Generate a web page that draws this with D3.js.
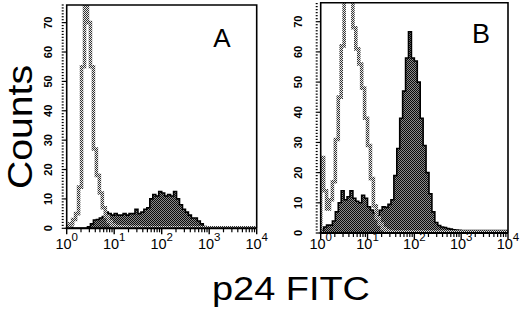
<!DOCTYPE html>
<html><head><meta charset="utf-8">
<script src="https://cdn.jsdelivr.net/npm/d3@7/dist/d3.min.js"></script>
<style>
html,body{margin:0;padding:0;background:#fff;}
svg{display:block;}
text{font-family:"Liberation Sans",Arial,Helvetica,sans-serif;fill:#000;}
</style></head>
<body>
<svg id="chart" width="520" height="310"></svg>
<script>
// ---- data (16 channels per decade, 4 decades) ----
const binsPerDecade = 16;
const yTicks = [0,10,20,30,40,50,60,70];
const xTickExponents = [0,1,2,3,4];
const panelLabels = ["A","B"];
const xTitle = "p24 FITC";
const yTitle = "Counts";

const controlA = [0.5,1.5,3,5,14,55,90,70,55,27,18,12,7,4,2.3,1.1,
  0.6,0.5,0.4,0.4,0.3,0.3,0.3,0.3,0.3,0.2,0.2,0.2,0.2,0.2,0.2,0.2,
  0.2,0.2,0.2,0.2,0.2,0.2,0.2,0.2,0.2,0.2,0.2,0.2,0.2,0.2,0.2,0.2,
  0.2,0.2,0.2,0.2,0.2,0.2,0.2,0.2,0.2,0.2,0.2,0.2,0.2,0.2,0.2,0.2];
const sampleA = [0.8,0.3,0,0,0,0,0,0.5,1.5,2.8,3,3.5,4,5.5,5,4.5,
  5,4.5,4.5,5,4.5,5,5,6.5,5,5.5,6.5,7,10,11.5,11,12.5,
  12,11,11.5,11,12.5,10,8,6.5,5.5,4.5,3.5,3.5,2.5,1.5,0.6,0.3,
  0.3,0.3,0.3,0.3,0.3,0.3,0.3,0.3,0.3,0.3,0.3,0.3,0.3,0.3,0.3,0.3];
const controlB = [25,14,8,11,17,31,45,62,85,90,80,68,61,56,48,38,
  29,18,9,5,3,1.5,0.8,0.5,0.3,0.3,0.3,0.3,0.3,0.3,0.3,0.3,
  0.3,0.3,0.3,0.3,0.3,0.3,0.3,0.3,0.3,0.3,0.3,0.3,0.3,0.3,0.3,0.3,
  0.3,0.3,0.3,0.3,0.3,0.3,0.3,0.3,0.3,0.3,0.3,0.3,0.3,0.3,0.3,0.3];
const sampleB = [1,2,2.6,2.6,4,7,10,14,11,12,14,11.5,10.5,10,12.5,11.5,
  8.7,7.6,6.6,5.5,7.5,8.7,8.5,9.5,11,19,28,38,47,58,66.7,58,
  57,50,38,29,20,13,7,3.5,2.5,2,1.8,1.5,1.3,1.1,1,0.9,
  0.8,0.8,0.8,0.8,0.8,0.8,0.8,0.8,0.8,0.8,0.8,0.8,0.8,0.8,0.8,0.8];

const panels = [
  {id:"A", control:controlA, sample:sampleA, x0:66.7, x1:256.7, yb:228.3, yt:5, ymax:76,
   labelX:222, labelY:47, labelSize:26, tickLabelX:52},
  {id:"B", control:controlB, sample:sampleB, x0:320.7, x1:508, yb:233, yt:2.7, ymax:76.3,
   labelX:481, labelY:43, labelSize:27, tickLabelX:302}
];

const svg = d3.select("#chart");
const defs = svg.append("defs");
// halftone fill for the sample histogram
const pf = defs.append("pattern").attr("id","fillDots").attr("width",2).attr("height",2)
  .attr("patternUnits","userSpaceOnUse");
pf.append("rect").attr("width",2).attr("height",2).attr("fill","#8c8c8c");
pf.append("rect").attr("width",1).attr("height",1).attr("fill","#0a0a0a");
pf.append("rect").attr("x",1).attr("y",1).attr("width",1).attr("height",1).attr("fill","#0a0a0a");
// hatched grey for control outline
const pc = defs.append("pattern").attr("id","ctrlHatch").attr("width",2).attr("height",2)
  .attr("patternUnits","userSpaceOnUse");
pc.append("rect").attr("width",2).attr("height",2).attr("fill","#e6e6e6");
pc.append("rect").attr("width",1).attr("height",1).attr("fill","#333");
pc.append("rect").attr("x",1).attr("y",1).attr("width",1).attr("height",1).attr("fill","#333");

panels.forEach((p,pi) => {
  const x = d3.scaleLog().domain([1,1e4]).range([p.x0,p.x1]);
  const y = d3.scaleLinear().domain([0,p.ymax]).range([p.yb,p.yt]);
  const g = svg.append("g");
  const clipId = "clip"+p.id;
  defs.append("clipPath").attr("id",clipId).append("rect")
    .attr("x",p.x0).attr("y",p.yt).attr("width",p.x1-p.x0).attr("height",p.yb-p.yt);

  const toPts = arr => {
    const pts = [{e:1, v:0}];
    arr.forEach((v,i) => pts.push({e:Math.pow(10,i/binsPerDecade), v}));
    pts.push({e:1e4, v:arr[arr.length-1]});
    return pts;
  };
  const area = d3.area().x(d=>x(d.e)).y0(y(0)).y1(d=>y(d.v)).curve(d3.curveStepAfter);
  const line = d3.line().x(d=>x(d.e)).y(d=>y(d.v)).curve(d3.curveStepAfter);

  const hg = g.append("g").attr("clip-path",`url(#${clipId})`);
  const sPts = toPts(p.sample);
  hg.append("path").attr("d",area(sPts)).attr("fill","url(#fillDots)");
  hg.append("path").attr("d",line(sPts)).attr("fill","none").attr("stroke","#000").attr("stroke-width",1.6);
  hg.append("path").attr("d",line(toPts(p.control))).attr("fill","none")
    .attr("stroke","url(#ctrlHatch)").attr("stroke-width",3.6);

  // frame
  g.append("path").attr("d",`M${p.x0},${p.yb}V${p.yt}H${p.x1}V${p.yb}`)
    .attr("fill","none").attr("stroke","#000").attr("stroke-width",1.6);
  g.append("line").attr("x1",p.x0-1).attr("x2",p.x1).attr("y1",p.yb).attr("y2",p.yb)
    .attr("stroke","#000").attr("stroke-width",2);

  // y axis: minor every unit, major every 10
  const yMinor = d3.range(0, Math.floor(p.ymax)+1);
  g.selectAll(".ym").data(yMinor).join("line")
    .attr("x1",p.x0-5).attr("x2",d=> d%10===0 ? p.x0 : p.x0-3)
    .attr("y1",d=>y(d)).attr("y2",d=>y(d))
    .attr("stroke","#000").attr("stroke-width",1.2);
  g.selectAll(".yl").data(yTicks).join("text")
    .attr("transform",d=>`translate(${p.tickLabelX},${y(d)}) rotate(-90)`)
    .attr("text-anchor","middle").attr("font-size",11).attr("font-weight","bold")
    .text(d=>d);

  // x axis: log ticks
  const minor = [];
  xTickExponents.slice(0,-1).forEach(k => { for (let m=2;m<=9;m++) minor.push(m*Math.pow(10,k)); });
  g.selectAll(".xm").data(minor).join("line")
    .attr("x1",d=>x(d)).attr("x2",d=>x(d)).attr("y1",p.yb).attr("y2",p.yb+4)
    .attr("stroke","#000").attr("stroke-width",1.2);
  g.selectAll(".xM").data(xTickExponents).join("line")
    .attr("x1",d=>x(Math.pow(10,d))).attr("x2",d=>x(Math.pow(10,d)))
    .attr("y1",p.yb).attr("y2",p.yb+6).attr("stroke","#000").attr("stroke-width",1.4);
  const xl = g.selectAll(".xl").data(xTickExponents).join("text")
    .attr("x",d=>x(Math.pow(10,d))).attr("y",249).attr("text-anchor","middle").attr("font-size",14.5);
  xl.append("tspan").text("10");
  xl.append("tspan").attr("dy",-8).attr("font-size",11.5).text(d=>d);

  // panel letter
  g.append("text").attr("x",p.labelX).attr("y",p.labelY).attr("text-anchor","middle")
    .attr("font-size",p.labelSize).text(panelLabels[pi]);
});

svg.append("text").attr("transform","translate(32,127) rotate(-90)").attr("text-anchor","middle")
  .attr("font-size",35).attr("textLength",124).attr("lengthAdjust","spacingAndGlyphs").text(yTitle);
svg.append("text").attr("x",291).attr("y",300).attr("text-anchor","middle")
  .attr("font-size",33).attr("textLength",158).attr("lengthAdjust","spacingAndGlyphs").text(xTitle);
</script>
</body></html>
